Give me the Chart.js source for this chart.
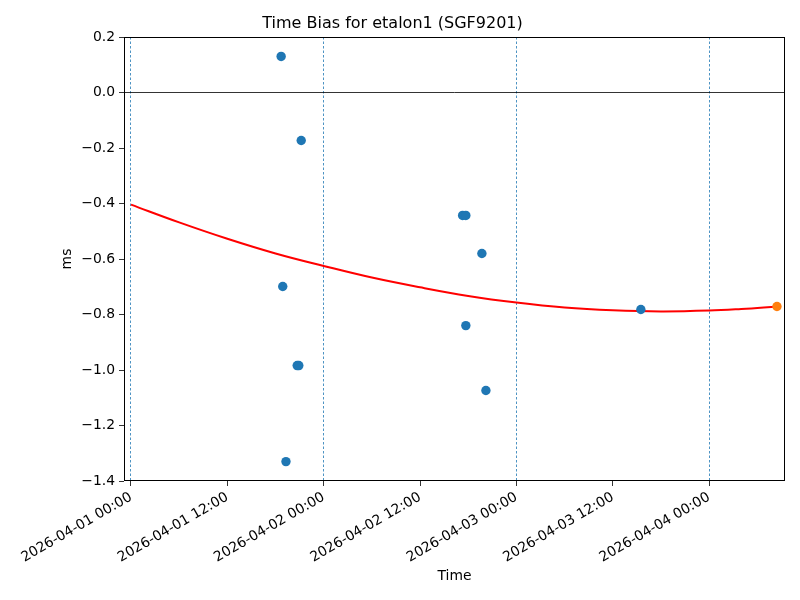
<!DOCTYPE html>
<html>
<head>
<meta charset="utf-8">
<script src="https://cdn.jsdelivr.net/npm/chart.js@4"></script>
<style>
  body { margin: 0; background: #fff; }
  #wrap { width: 800px; height: 600px; }
</style>
</head>
<body>
<div id="wrap"><canvas id="biasChart" width="800" height="600"></canvas></div>
<script>
// hours since 2026-04-01 00:00
var obsHours = [18.7, 21.2, 18.9, 20.7, 20.9, 19.3, 41.3, 41.7, 43.7, 41.7, 44.2, 63.5];
var obsBias = [0.13, -0.173, -0.699, -0.984, -0.984, -1.33, -0.443, -0.443, -0.58, -0.84, -1.074, -0.782];
// predicted point
var predHours = [80.45];
var predBias = [-0.771];
// fitted curve
var fitHours = [0, 6, 12, 18, 24, 30, 36, 42, 48, 54, 60, 66, 72, 76, 80.45];
var fitBias = [-0.404, -0.468, -0.527, -0.580, -0.625, -0.667, -0.702, -0.733, -0.757, -0.775, -0.785, -0.789, -0.786, -0.780, -0.771];
var tickHours = [0, 12, 24, 36, 48, 60, 72];

function toXY(xs, ys) {
  return xs.map(function (x, i) { return {x: x, y: ys[i]}; });
}

function fmtHour(h) {
  var day = 1 + Math.floor(h / 24);
  var hr = h % 24;
  return "2026-04-0" + day + " " + (hr < 10 ? "0" : "") + hr + ":00";
}

var boxPlugin = {
  id: "box",
  afterDraw: function (chart) {
    var a = chart.chartArea, ctx = chart.ctx;
    ctx.save();
    ctx.strokeStyle = "#000";
    ctx.lineWidth = 1;
    ctx.strokeRect(a.left + 0.5, a.top + 0.5, a.right - a.left - 1, a.bottom - a.top - 1);
    ctx.restore();
  }
};

Chart.defaults.font.family = "'DejaVu Sans', sans-serif";
Chart.defaults.color = "#000";

new Chart("biasChart", {
  type: "scatter",
  data: {
    datasets: [{
      type: "line",
      data: toXY(fitHours, fitBias),
      borderColor: "#ff0000",
      borderWidth: 2,
      pointRadius: 0,
      tension: 0.4,
      fill: false,
      order: 3
    }, {
      data: toXY(obsHours, obsBias),
      backgroundColor: "#1f77b4",
      borderWidth: 0,
      pointRadius: 4.7,
      order: 2
    }, {
      data: toXY(predHours, predBias),
      backgroundColor: "#ff7f0e",
      borderWidth: 0,
      pointRadius: 4.7,
      order: 1
    }]
  },
  options: {
    responsive: false,
    animation: false,
    layout: {padding: {left: 0, right: 15, top: 0, bottom: 0}},
    plugins: {
      legend: {display: false},
      tooltip: {enabled: false},
      title: {
        display: true,
        text: "Time Bias for etalon1 (SGF9201)",
        font: {size: 16, weight: "normal"},
        padding: {top: 14, bottom: 3.8}
      }
    },
    scales: {
      x: {
        type: "linear",
        min: -0.87,
        max: 81.45,
        afterBuildTicks: function (axis) {
          axis.ticks = tickHours.map(function (v) { return {value: v}; });
        },
        afterFit: function (axis) { axis.height = 119; },
        ticks: {
          callback: function (v) { return fmtHour(v); },
          minRotation: 30,
          maxRotation: 30,
          autoSkip: false,
          font: {size: 13.9},
          padding: 3
        },
        grid: {
          color: function (c) { return c.tick && c.tick.value % 24 === 0 ? "#1f77b4" : "rgba(0,0,0,0)"; },
          lineWidth: 0.8,
          tickColor: "#000",
          tickLength: 5,
          tickBorderDash: []
        },
        border: {display: false, dash: [2.5, 2]},
        title: {display: true, text: "Time", font: {size: 13.9}, padding: {top: 0, bottom: 15}}
      },
      y: {
        min: -1.4,
        max: 0.2,
        afterFit: function (axis) { axis.width = 124; },
        ticks: {
          stepSize: 0.2,
          font: {size: 13.9},
          padding: 4,
          callback: function (v) {
            if (Math.abs(v) < 1e-9) return "0.0";
            return (v < 0 ? "\u2212" : "") + Math.abs(v).toFixed(1);
          }
        },
        grid: {
          color: function (c) { return c.tick && Math.abs(c.tick.value) < 1e-9 ? "#000" : "rgba(0,0,0,0)"; },
          lineWidth: 0.8,
          tickColor: "#000",
          tickLength: 5
        },
        border: {display: false},
        title: {display: true, text: "ms", font: {size: 13.9}, padding: {top: 59, bottom: 0}}
      }
    }
  },
  plugins: [boxPlugin]
});
</script>
</body>
</html>
